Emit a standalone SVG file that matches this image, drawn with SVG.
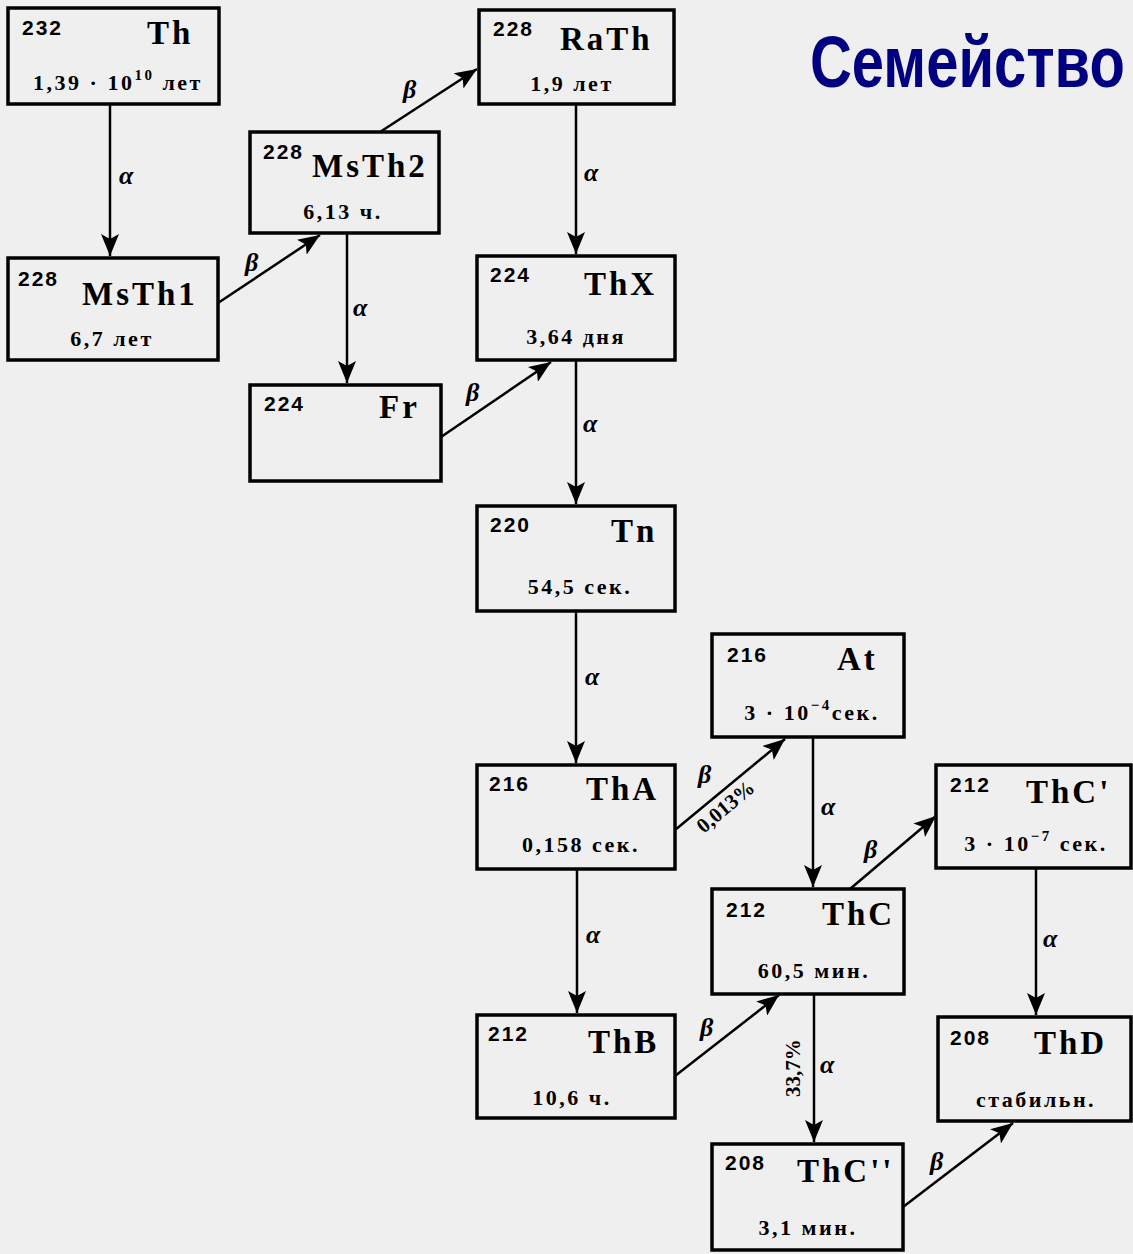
<svg xmlns="http://www.w3.org/2000/svg" width="1133" height="1254" viewBox="0 0 1133 1254">
<style>
.box{fill:none;stroke:#000;stroke-width:3.5}
.m{font-family:"Liberation Sans",Arial,sans-serif;font-weight:bold;font-size:21px;letter-spacing:2px;fill:#000}
.s{font-family:"Liberation Serif","Times New Roman",serif;font-weight:bold;font-size:33px;letter-spacing:3px;fill:#000}
.h{font-family:"Liberation Serif","Times New Roman",serif;font-weight:bold;font-size:22px;letter-spacing:2.5px;fill:#000;text-anchor:middle}
.sup{font-size:15px}
.c{fill:none;stroke:#000;stroke-width:2.5;marker-end:url(#ah)}
.l{font-family:"Liberation Serif","Times New Roman",serif;font-weight:bold;font-style:italic;font-size:26px;fill:#000}
.p{font-family:"Liberation Serif","Times New Roman",serif;font-weight:bold;font-size:21px;fill:#000;text-anchor:middle}
</style>
<defs>
<marker id="ah" markerUnits="userSpaceOnUse" markerWidth="24" markerHeight="18" refX="22" refY="9" orient="auto" viewBox="0 0 24 18">
<path d="M0,0 L22,9 L0,18 L5,9 z" fill="#000"/>
</marker>
</defs>
<rect width="1133" height="1254" fill="#efefef"/>
<text x="810" y="87" transform="translate(810,87) scale(0.805,1) translate(-810,-87)" font-family="'Liberation Sans',Arial,sans-serif" font-weight="bold" font-size="72" fill="#000080">Семейство</text>

<g id="connectors">
<line class="c" x1="110" y1="104" x2="110" y2="256"/>
<line class="c" x1="218" y1="303" x2="320" y2="235"/>
<line class="c" x1="380" y1="132" x2="477" y2="69"/>
<line class="c" x1="347" y1="233" x2="347" y2="383"/>
<line class="c" x1="441" y1="437" x2="551" y2="362"/>
<line class="c" x1="576" y1="104" x2="576" y2="254"/>
<line class="c" x1="576" y1="360" x2="576" y2="504"/>
<line class="c" x1="576" y1="611" x2="576" y2="763"/>
<line class="c" x1="675" y1="830" x2="785" y2="739"/>
<line class="c" x1="577" y1="869" x2="577" y2="1013"/>
<line class="c" x1="813" y1="737" x2="813" y2="887"/>
<line class="c" x1="850" y1="889" x2="936" y2="816"/>
<line class="c" x1="675" y1="1076" x2="779" y2="995"/>
<line class="c" x1="814" y1="994" x2="814" y2="1142"/>
<line class="c" x1="1036" y1="868" x2="1036" y2="1015"/>
<line class="c" x1="903" y1="1207" x2="1013" y2="1123"/>
<text class="l" x="119" y="184">α</text>
<text class="l" x="245" y="271">β</text>
<text class="l" x="403" y="98">β</text>
<text class="l" x="353" y="316">α</text>
<text class="l" x="466" y="401">β</text>
<text class="l" x="584" y="181">α</text>
<text class="l" x="583" y="432">α</text>
<text class="l" x="585" y="685">α</text>
<text class="l" x="698" y="783">β</text>
<text class="p" x="730" y="812" transform="rotate(-40,730,812)">0,013%</text>
<text class="l" x="586" y="943">α</text>
<text class="l" x="821" y="815">α</text>
<text class="l" x="864" y="858">β</text>
<text class="l" x="700" y="1036">β</text>
<text class="p" x="800" y="1068" transform="rotate(-90,800,1068)">33,7%</text>
<text class="l" x="820" y="1073">α</text>
<text class="l" x="1043" y="947">α</text>
<text class="l" x="930" y="1170">β</text>
</g>

<g id="n-Th"><rect class="box" x="8" y="8" width="211" height="96"/>
<text class="m" x="22" y="35">232</text><text class="s" x="147" y="44" font-size="34">Th</text>
<text class="h" x="118" y="90" letter-spacing="1.5">1,39 · 10<tspan class="sup" dy="-10">10</tspan><tspan dy="10"> лет</tspan></text></g>

<g id="n-RaTh"><rect class="box" x="479" y="10" width="195" height="94"/>
<text class="m" x="493" y="36">228</text><text class="s" x="560" y="50" letter-spacing="5">RaTh</text>
<text class="h" x="572" y="91">1,9 лет</text></g>

<g id="n-MsTh2"><rect class="box" x="250" y="132" width="189" height="101"/>
<text class="m" x="263" y="159">228</text><text class="s" x="312" y="177" letter-spacing="4">MsTh2</text>
<text class="h" x="343" y="219">6,13 ч.</text></g>

<g id="n-MsTh1"><rect class="box" x="8" y="258" width="210" height="102"/>
<text class="m" x="18" y="286">228</text><text class="s" x="82" y="305" letter-spacing="4">MsTh1</text>
<text class="h" x="112" y="346">6,7 лет</text></g>

<g id="n-ThX"><rect class="box" x="477" y="256" width="198" height="104"/>
<text class="m" x="490" y="282">224</text><text class="s" x="584" y="295" letter-spacing="3">ThX</text>
<text class="h" x="576" y="344">3,64 дня</text></g>

<g id="n-Fr"><rect class="box" x="250" y="385" width="191" height="96"/>
<text class="m" x="264" y="411">224</text><text class="s" x="379" y="418">Fr</text></g>

<g id="n-Tn"><rect class="box" x="477" y="506" width="198" height="105"/>
<text class="m" x="490" y="532">220</text><text class="s" x="611" y="542" letter-spacing="4">Tn</text>
<text class="h" x="580" y="594">54,5 сек.</text></g>

<g id="n-At"><rect class="box" x="712" y="634" width="192" height="103"/>
<text class="m" x="727" y="662">216</text><text class="s" x="837" y="670">At</text>
<text class="h" x="812" y="720" letter-spacing="1.5">3 · 10<tspan class="sup" dy="-10">−4</tspan><tspan dy="10">сек.</tspan></text></g>

<g id="n-ThA"><rect class="box" x="477" y="765" width="198" height="104"/>
<text class="m" x="489" y="791">216</text><text class="s" x="586" y="800">ThA</text>
<text class="h" x="581" y="852">0,158 сек.</text></g>

<g id="n-ThC1"><rect class="box" x="936" y="765" width="195" height="103"/>
<text class="m" x="950" y="792">212</text><text class="s" x="1026" y="803">ThC'</text>
<text class="h" x="1036" y="851" letter-spacing="1.5">3 · 10<tspan class="sup" dy="-10">−7</tspan><tspan dy="10"> сек.</tspan></text></g>

<g id="n-ThC"><rect class="box" x="712" y="889" width="192" height="105"/>
<text class="m" x="726" y="917">212</text><text class="s" x="822" y="925">ThC</text>
<text class="h" x="814" y="978">60,5 мин.</text></g>

<g id="n-ThB"><rect class="box" x="477" y="1015" width="198" height="103"/>
<text class="m" x="488" y="1041">212</text><text class="s" x="588" y="1053">ThB</text>
<text class="h" x="572" y="1105">10,6 ч.</text></g>

<g id="n-ThD"><rect class="box" x="938" y="1017" width="193" height="104"/>
<text class="m" x="950" y="1045">208</text><text class="s" x="1034" y="1054">ThD</text>
<text class="h" x="1036" y="1107">стабильн.</text></g>

<g id="n-ThC2"><rect class="box" x="712" y="1144" width="191" height="106"/>
<text class="m" x="725" y="1170">208</text><text class="s" x="797" y="1182">ThC''</text>
<text class="h" x="808" y="1235">3,1 мин.</text></g>
</svg>
